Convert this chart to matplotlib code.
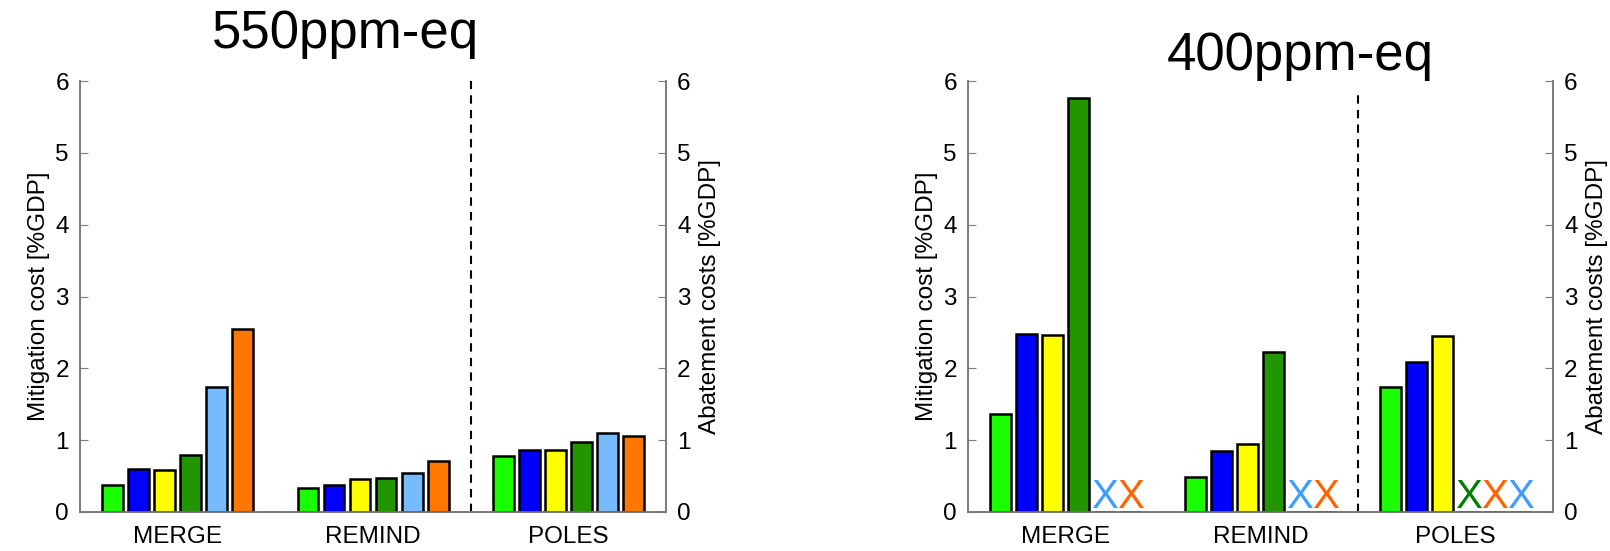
import numpy as np
import matplotlib
matplotlib.use("Agg")
import matplotlib.pyplot as plt

plt.rcParams["font.family"] = ["Liberation Sans", "DejaVu Sans"]

groups = ["MERGE", "REMIND", "POLES"]
bar_colors = ["#19ff00", "#0000ff", "#ffff00", "#229600", "#77bbff", "#ff7700"]

# mitigation cost [%GDP], one row per series, columns = MERGE, REMIND, POLES
cost_550 = [
    [0.38, 0.33, 0.78],
    [0.60, 0.38, 0.87],
    [0.59, 0.46, 0.86],
    [0.80, 0.48, 0.98],
    [1.74, 0.54, 1.10],
    [2.55, 0.71, 1.06],
]
# nan = scenario not feasible (marked with an X)
nan = float("nan")
cost_400 = [
    [1.37, 0.49, 1.74],
    [2.48, 0.85, 2.09],
    [2.47, 0.95, 2.45],
    [5.76, 2.23, nan],
    [nan, nan, nan],
    [nan, nan, nan],
]
# (group index, slot index, colour) of the X markers
x_marks_400 = [
    (0, 4, "#3d9eff"), (0, 5, "#ff6400"),
    (1, 4, "#3d9eff"), (1, 5, "#ff6400"),
    (2, 3, "#007f00"), (2, 4, "#ff6400"), (2, 5, "#3d9eff"),
]

FS = 17.5
GRAY = "#7a7a7a"
step = 0.8 / 6
width = step * 0.8


def draw_panel(ax, data, marks, title, title_xy, dash_top):
    ax2 = ax.twinx()
    xc = np.arange(1, len(groups) + 1)
    for j, vals in enumerate(data):
        v = np.nan_to_num(np.array(vals, dtype=float), nan=0.0)
        ax.bar(xc + (j - 2.5) * step, v, width=width, color=bar_colors[j],
               edgecolor="black", linewidth=1.8, zorder=3)
    for g, j, c in marks:
        ax.text(xc[g] + (j - 2.5) * step, 0.06, "X", color=c, fontsize=29,
                ha="center", va="baseline", zorder=4)
    ax.vlines(2.5, 0, dash_top, colors="black", linestyles=(0, (4, 3)),
              linewidth=1.5, zorder=2)
    for a in (ax, ax2):
        a.set_ylim(0, 6)
        a.set_yticks(range(7))
        a.tick_params(axis="y", direction="in", length=6, color=GRAY,
                      labelsize=FS, pad=8)
        a.spines["top"].set_visible(False)
        for s in ("left", "right", "bottom"):
            a.spines[s].set_color(GRAY)
            a.spines[s].set_linewidth(1.2)
    ax.set_xlim(0.5, 3.5)
    ax.set_xticks(xc)
    ax.set_xticklabels(groups, fontsize=FS)
    ax.tick_params(axis="x", length=0, pad=10)
    ax.set_ylabel("Mitigation cost [%GDP]", fontsize=FS, labelpad=4)
    ax2.set_ylabel("Abatement costs [%GDP]", fontsize=FS, labelpad=6)
    fig.text(title_xy[0], title_xy[1], title, fontsize=38, ha="center",
             va="baseline")


fig = plt.figure(figsize=(16.1, 5.51), dpi=100)
ax_l = fig.add_axes([0.0497, 0.0708, 0.364, 0.782])
ax_r = fig.add_axes([0.6012, 0.0708, 0.3634, 0.782])

draw_panel(ax_l, cost_550, [], "550ppm-eq", (0.2143, 0.913), 6.0)
draw_panel(ax_r, cost_400, x_marks_400, "400ppm-eq", (0.8075, 0.873), 5.83)

fig.savefig("out.png", dpi=100)
